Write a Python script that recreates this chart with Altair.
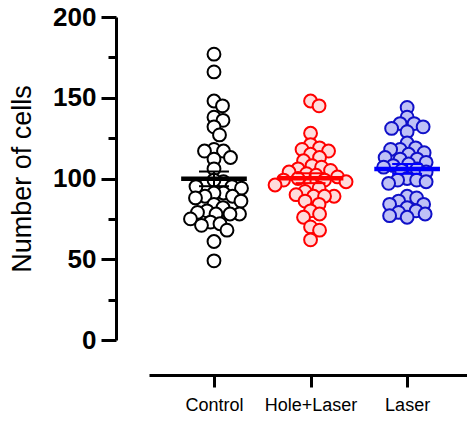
import altair as alt
import pandas as pd
import numpy as np

categories = ["Control", "Hole+Laser", "Laser"]
control = [177, 166, 148, 145, 138, 136, 132, 127, 118, 117, 117, 113, 112, 106, 98,
           96, 99, 95, 95, 94, 91, 91, 89, 89, 88, 86, 84, 82, 80, 79, 78, 78, 78,
           75, 73, 72, 71, 68, 61, 49]
hole_laser = [148, 145, 128, 121, 119, 118, 117, 115, 113, 111, 108, 107, 106, 105, 104,
              103, 102, 101, 100, 99, 99, 98, 97, 96, 94, 92, 90, 89, 89, 89, 86, 84,
              80, 78, 76, 70, 68, 62]
laser = [144, 138, 134, 134, 132, 131, 129, 122, 119, 118, 118, 116, 115, 113, 112, 112,
         110, 109, 108, 107, 106, 105, 104, 100, 99, 99, 98, 97, 89, 88, 86, 84, 84, 82,
         80, 79, 78, 77, 76]
series = [control, hole_laser, laser]

stroke_colors = ["#000000", "#FF0000", "#1010C8"]
fill_colors = ["#FFFFFF", "#FFDCDC", "#BFC1F6"]
line_colors = ["#000000", "#FF0000", "#0000FF"]

W, H = 318, 323
X_DOMAIN = [-0.673, 2.62]
Y_DOMAIN = [0, 200]
px_per_x = W / (X_DOMAIN[1] - X_DOMAIN[0])
px_per_y = H / (Y_DOMAIN[1] - Y_DOMAIN[0])


def swarm(vals, min_dist=9.5):
    """Simple beeswarm layout: returns horizontal offsets in x-scale units."""
    order = np.argsort(vals)[::-1]
    placed = []
    offs = np.zeros(len(vals))
    cands = [0.0]
    for k in range(1, 200):
        cands += [k * 0.5, -k * 0.5]
    for i in order:
        yp = vals[i] * px_per_y
        for c in cands:
            ok = True
            for (px, py) in placed:
                if (c - px) ** 2 + (yp - py) ** 2 < min_dist ** 2:
                    ok = False
                    break
            if ok:
                placed.append((c, yp))
                offs[i] = c / px_per_x
                break
    return offs


rows = []
for gi, (name, vals) in enumerate(zip(categories, series)):
    offs = swarm(np.array(vals, dtype=float))
    for v, o in zip(vals, offs):
        rows.append({"group": name, "idx": gi, "value": v, "xpos": gi + o})
df = pd.DataFrame(rows)

color_stroke = alt.Scale(domain=categories, range=stroke_colors)
color_fill = alt.Scale(domain=categories, range=fill_colors)
color_line = alt.Scale(domain=categories, range=line_colors)

xscale = alt.Scale(domain=X_DOMAIN, nice=False, zero=False)
yscale = alt.Scale(domain=Y_DOMAIN, nice=False)

x_axis = alt.Axis(
    values=[0, 1, 2],
    labelExpr="['Control','Hole+Laser','Laser'][datum.value]",
    title=None, grid=False, offset=35, domainWidth=3, domainColor="black",
    tickWidth=3, tickColor="black", tickSize=12, labelFontSize=18,
    labelFont="Liberation Sans", labelColor="black", labelPadding=9,
)
y_axis = alt.Axis(
    values=[0, 25, 50, 75, 100, 125, 150, 175, 200],
    labelExpr="datum.value % 50 === 0 ? datum.label : ''",
    title="Number of cells", titleFontSize=27, titleFont="Liberation Sans",
    titleFontWeight="normal", titleColor="black", titlePadding=16,
    grid=False, offset=33, domainWidth=3, domainColor="black",
    tickWidth=3, tickColor="black",
    tickSize={"condition": {"test": "datum.value % 50 === 0", "value": 15}, "value": 8},
    labelFontSize=26, labelFontWeight="bold", labelFont="Liberation Sans",
    labelColor="black", labelPadding=5,
)

base = alt.Chart(df)

points = base.mark_point(shape="circle", size=165, strokeWidth=2, opacity=1, fillOpacity=1).encode(
    x=alt.X("xpos:Q", scale=xscale, axis=x_axis),
    y=alt.Y("value:Q", scale=yscale, axis=y_axis),
    stroke=alt.Stroke("group:N", scale=color_stroke, legend=None),
    fill=alt.Fill("group:N", scale=color_fill, legend=None),
)

stats = base.transform_aggregate(
    mean="mean(value)", sem="stderr(value)", groupby=["group", "idx"]
).transform_calculate(
    xl="datum.idx - 0.34", xr="datum.idx + 0.34",
    cl="datum.idx - 0.155", cr="datum.idx + 0.155",
    lo="datum.mean - datum.sem", hi="datum.mean + datum.sem",
)

mean_line = stats.mark_rule(strokeWidth=4.5).encode(
    x=alt.X("xl:Q", scale=xscale), x2="xr:Q",
    y=alt.Y("mean:Q", scale=yscale),
    color=alt.Color("group:N", scale=color_line, legend=None),
)
sem_v = stats.mark_rule(strokeWidth=2).encode(
    x=alt.X("idx:Q", scale=xscale), y=alt.Y("lo:Q", scale=yscale), y2="hi:Q",
    color=alt.Color("group:N", scale=color_line, legend=None),
)
cap_hi = stats.mark_rule(strokeWidth=2).encode(
    x=alt.X("cl:Q", scale=xscale), x2="cr:Q", y=alt.Y("hi:Q", scale=yscale),
    color=alt.Color("group:N", scale=color_line, legend=None),
)
cap_lo = stats.mark_rule(strokeWidth=2).encode(
    x=alt.X("cl:Q", scale=xscale), x2="cr:Q", y=alt.Y("lo:Q", scale=yscale),
    color=alt.Color("group:N", scale=color_line, legend=None),
)

chart = alt.layer(points, mean_line, sem_v, cap_hi, cap_lo).properties(
    width=W, height=H,
    autosize=alt.AutoSizeParams(type="none"),
    padding={"left": 149, "top": 17, "right": 0, "bottom": 86},
    background="white",
).configure_view(stroke=None)

chart.save("out.html", embed_options={"renderer": "svg", "actions": False})
